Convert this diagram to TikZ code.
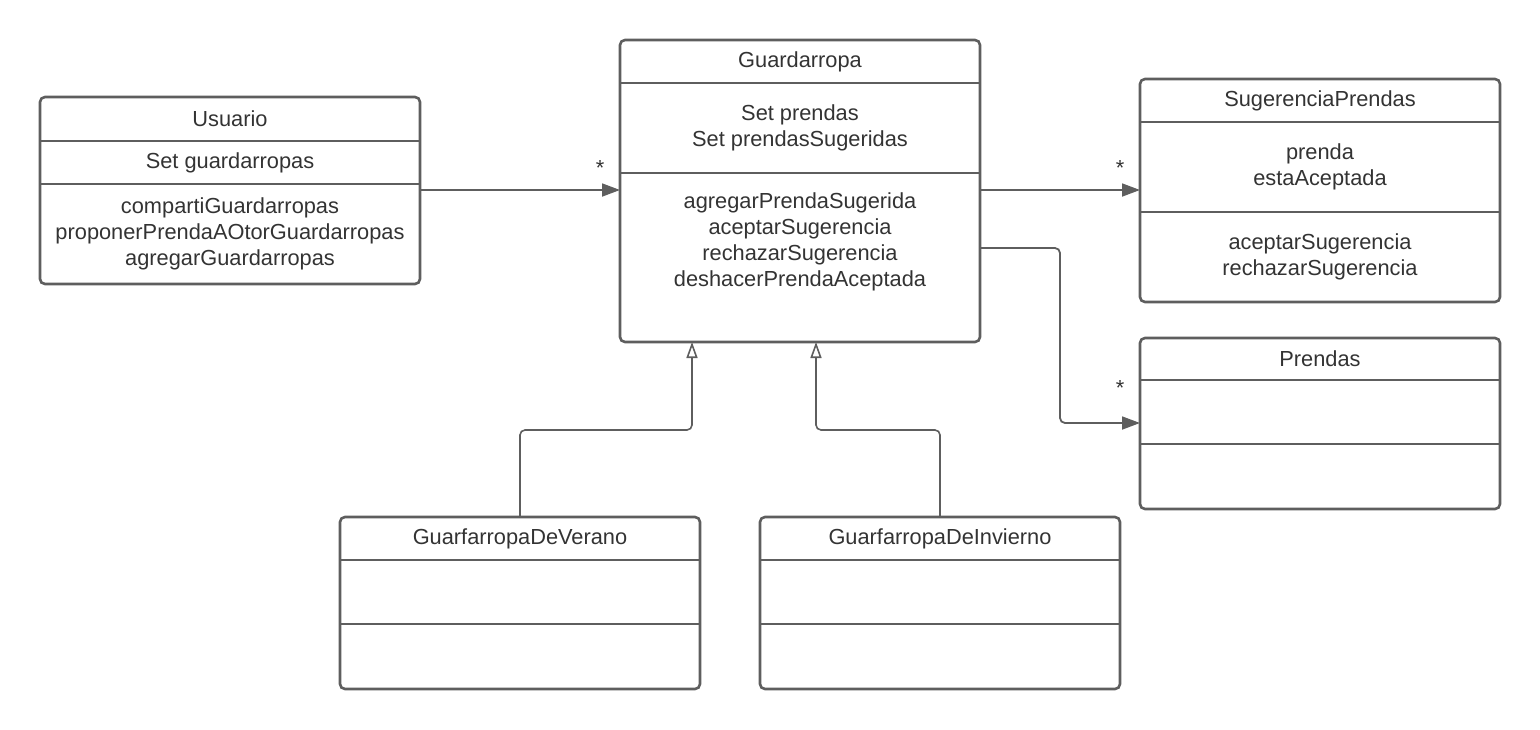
\documentclass[tikz,border=0pt]{standalone}
\usepackage{fontspec}
\setmainfont{Liberation Sans}
\usetikzlibrary{arrows.meta,positioning}
\definecolor{umlline}{HTML}{5E5E5E}
\definecolor{umltext}{HTML}{333333}
\tikzset{
cls/.style      = {minimum width=360pt, inner sep=0pt, outer sep=0pt, align=center, text=umltext, font=\fontsize{21.8}{26}\selectfont},
clsframe/.style = {draw=umlline, line width=2.6pt},
assoc/.style    = {draw=umlline, line width=1.8pt, -{Triangle[length=18pt,width=13pt]}},
genline/.style  = {draw=umlline, line width=1.6pt, rounded corners=5pt, -{Triangle[open,length=16pt,width=11pt]}},
mult/.style     = {inner sep=0pt, text=umltext, font=\fontsize{21.8}{26}\selectfont}
}
\begin{document}
\begin{tikzpicture}[x=1pt, y=-1pt]
  \useasboundingbox (0,0) rectangle (1540,729);

  % classes
  \node [cls, minimum width=380pt, minimum height=44pt, anchor=north] (usuario) at (230,97) {Usuario};
  \node [cls, minimum width=380pt, minimum height=43pt, below=0pt of usuario]     (usuario-a) {Set guardarropas};
  \node [cls, minimum width=380pt, minimum height=100pt, below=0pt of usuario-a]  (usuario-m) {compartiGuardarropas\\proponerPrendaAOtorGuardarropas\\agregarGuardarropas};

  \node [cls, minimum height=43pt, anchor=north]               (guardarropa)   at (800,40) {Guardarropa};
  \node [cls, minimum height=90pt, below=0pt of guardarropa]   (guardarropa-a) {Set prendas\\Set prendasSugeridas};
  \node [cls, minimum height=169pt, below=0pt of guardarropa-a] (guardarropa-m) {agregarPrendaSugerida\\aceptarSugerencia\\rechazarSugerencia\\deshacerPrendaAceptada\rule[-35.6pt]{0pt}{0pt}};

  \node [cls, minimum height=43pt, anchor=north]               (sugerencia)    at (1320,79) {SugerenciaPrendas};
  \node [cls, minimum height=90pt, below=0pt of sugerencia]    (sugerencia-a)  {prenda\\estaAceptada};
  \node [cls, minimum height=90pt, below=0pt of sugerencia-a]  (sugerencia-m)  {aceptarSugerencia\\rechazarSugerencia};

  \node [cls, minimum height=42pt, anchor=north]               (prendas)       at (1320,338) {Prendas};
  \node [cls, minimum height=64pt, below=0pt of prendas]       (prendas-a)     {};
  \node [cls, minimum height=65pt, below=0pt of prendas-a]     (prendas-m)     {};

  \node [cls, minimum height=43pt, anchor=north]               (verano)        at (520,517) {GuarfarropaDeVerano};
  \node [cls, minimum height=64pt, below=0pt of verano]        (verano-a)      {};
  \node [cls, minimum height=65pt, below=0pt of verano-a]      (verano-m)      {};

  \node [cls, minimum height=43pt, anchor=north]               (invierno)      at (940,517) {GuarfarropaDeInvierno};
  \node [cls, minimum height=64pt, below=0pt of invierno]      (invierno-a)    {};
  \node [cls, minimum height=65pt, below=0pt of invierno-a]    (invierno-m)    {};

  \foreach \c in {usuario,guardarropa,sugerencia,prendas,verano,invierno} {
    \draw [clsframe, rounded corners=5pt] (\c.north west) rectangle (\c-m.south east);
    \draw [clsframe] (\c-a.north west) -- (\c-a.north east) (\c-a.south west) -- (\c-a.south east);
  }

  % connectors
  \coordinate (bend) at (1060,423);
  \coordinate (jv)   at (692,430);
  \coordinate (ji)   at (816,430);

  \draw [assoc] (usuario-m.east |- 0,190) -- node [mult, pos=0.9, above=14pt] (m1) {*} (guardarropa-m.west |- 0,190);
  \draw [assoc] (guardarropa-m.east |- 0,190) -- node [mult, pos=0.875, above=14pt] (m2) {*} (sugerencia-a.west |- 0,190);
  \draw [assoc, rounded corners=5pt] (guardarropa-m.east |- 0,248) -| (bend) -- node [mult, pos=0.75, above=27pt] (m3) {*} (prendas-a.west |- bend);
  \draw [genline] (verano.north) |- (jv) -- (jv |- guardarropa-m.south);
  \draw [genline] (invierno.north) |- (ji) -- (ji |- guardarropa-m.south);
\end{tikzpicture}
\end{document}
